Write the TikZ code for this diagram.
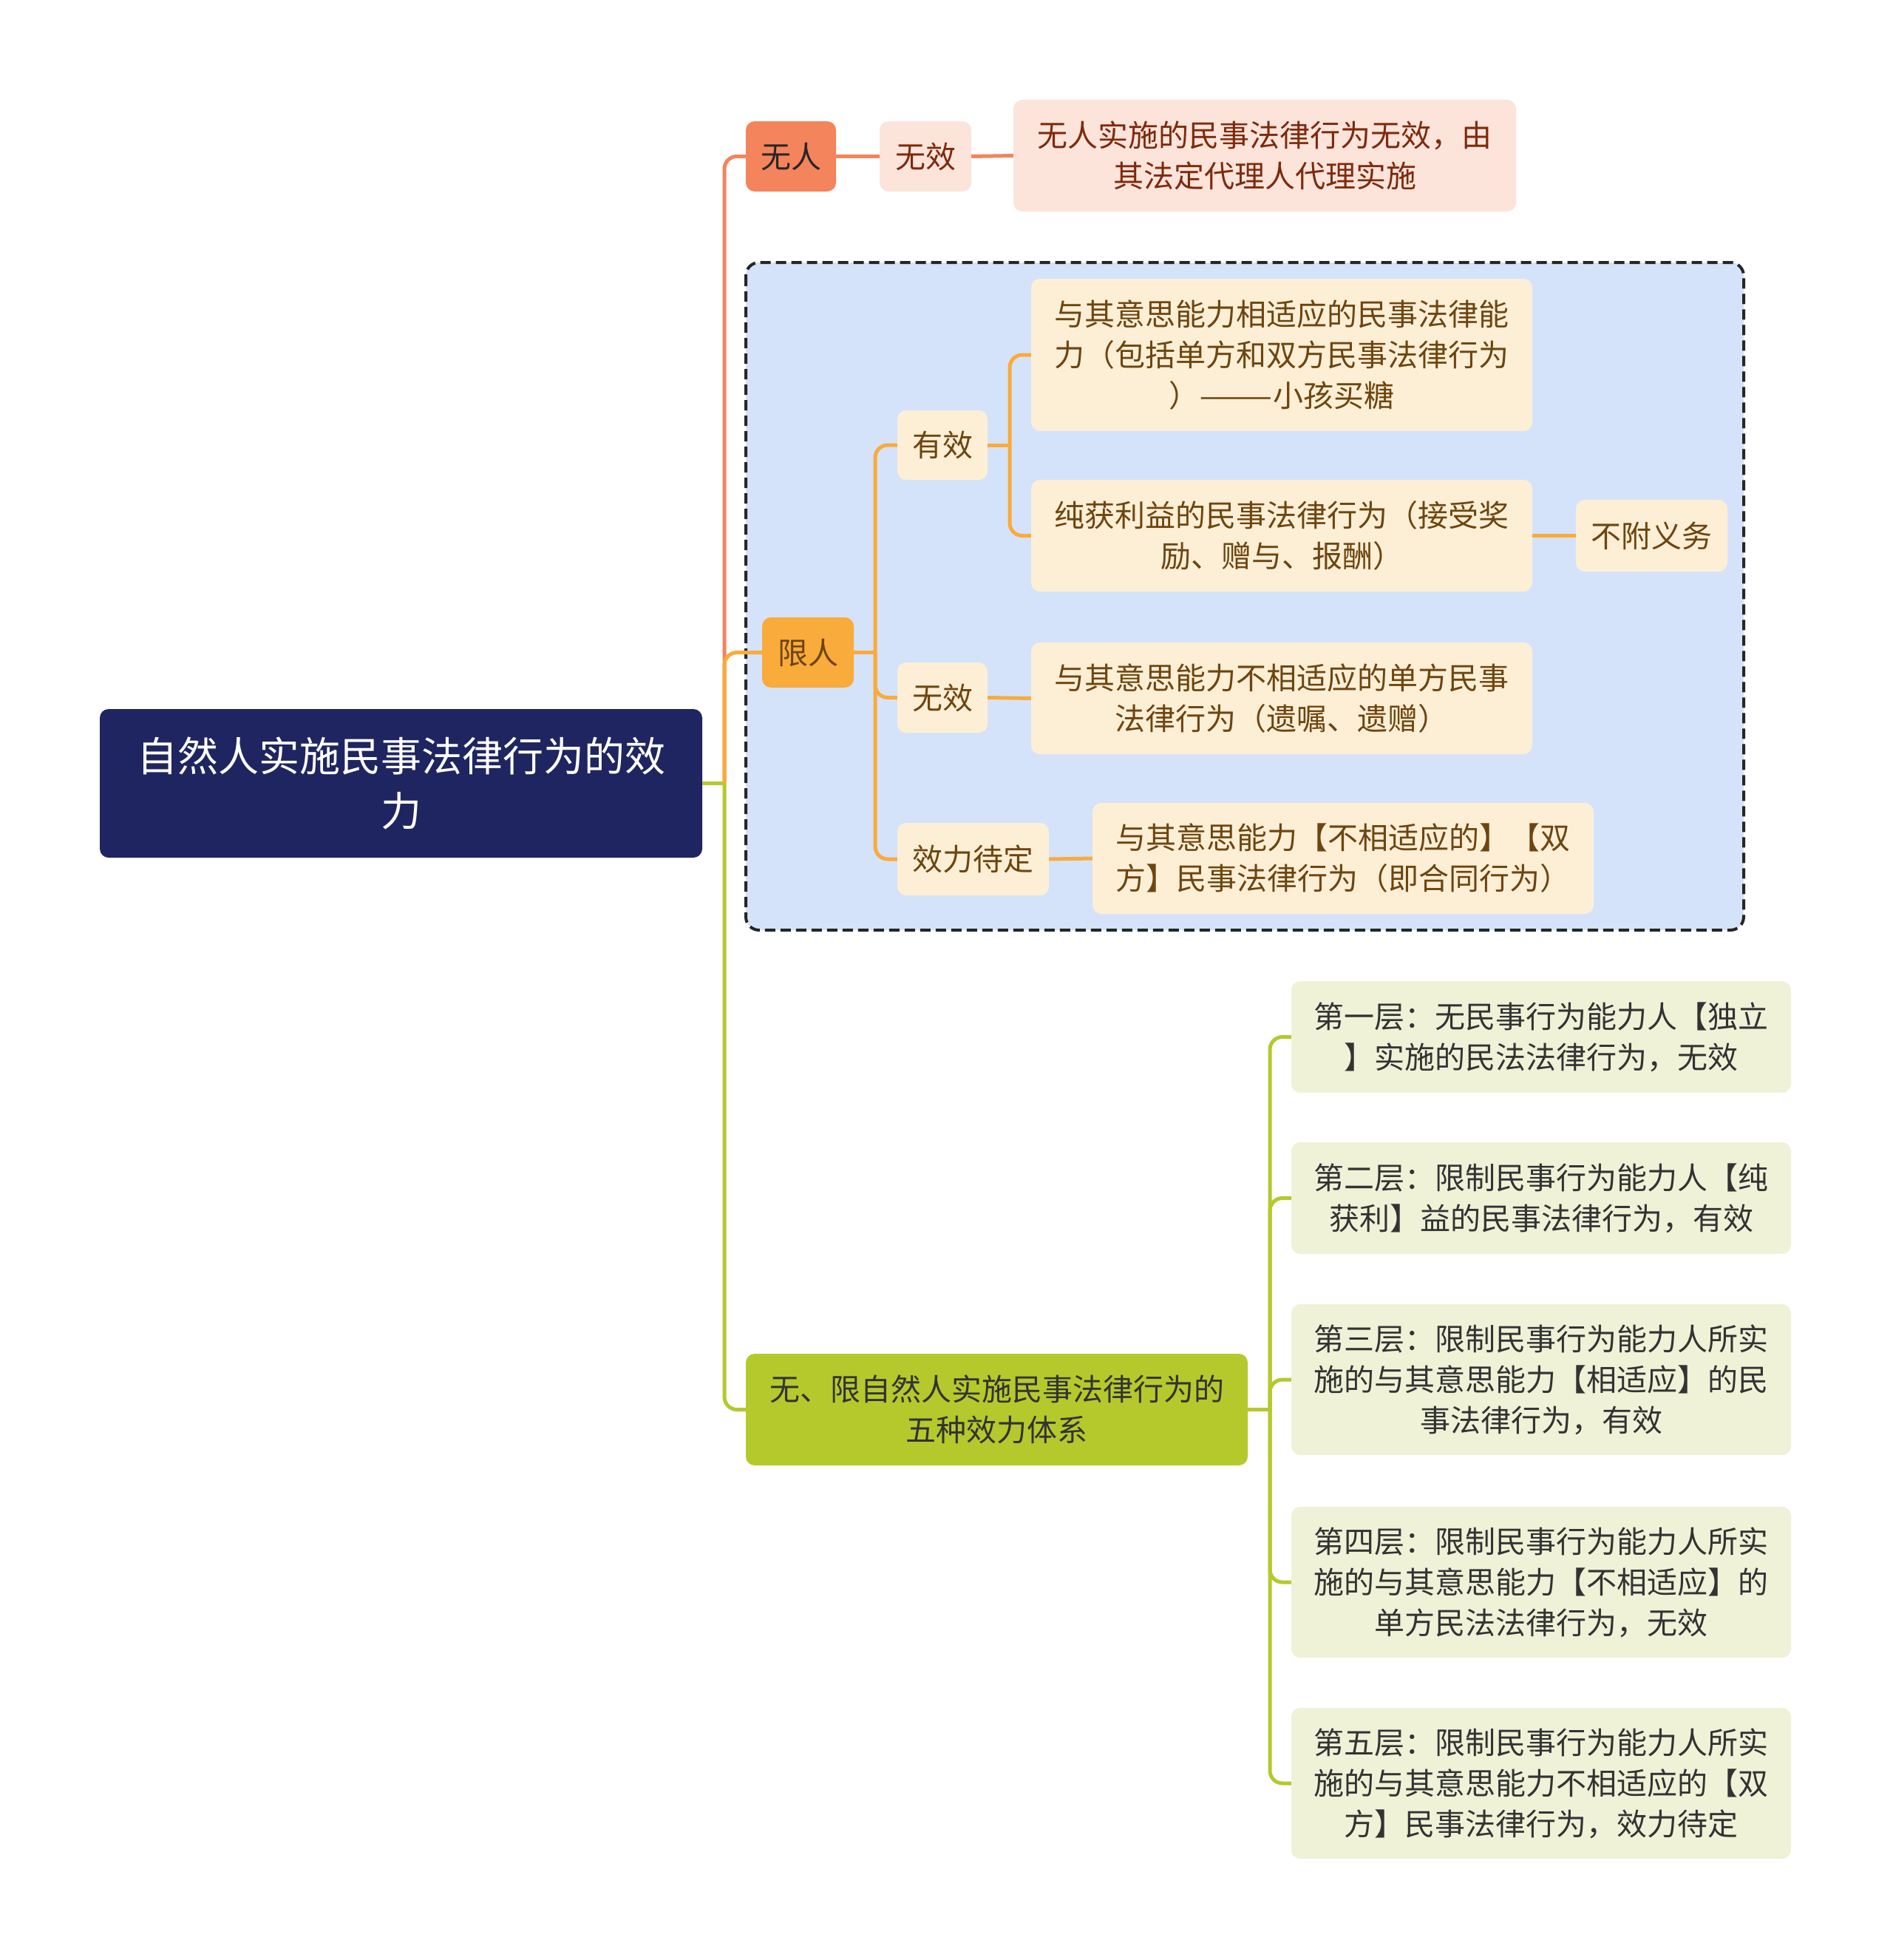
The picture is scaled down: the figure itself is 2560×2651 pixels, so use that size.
\documentclass[tikz,border=0pt]{standalone}
\usepackage{fontspec}
\setmainfont{Noto Sans CJK SC}
\definecolor{navy}{HTML}{1F2560}
\definecolor{redC}{HTML}{F4845C}
\definecolor{redL}{HTML}{FCE4DB}
\definecolor{redT}{HTML}{7E2A0C}
\definecolor{orC}{HTML}{F9AB3B}
\definecolor{orL}{HTML}{FDEFD6}
\definecolor{orT}{HTML}{6E4510}
\definecolor{grC}{HTML}{B5C92D}
\definecolor{grL}{HTML}{EFF2D7}
\definecolor{grT}{HTML}{333333}
\definecolor{bluebg}{HTML}{D5E3FA}
\begin{document}
\begin{tikzpicture}[x=1pt,y=-1pt,
  nb/.style={rounded corners=12pt, inner sep=0pt, align=center,
    font=\fontsize{41}{55}\selectfont},
  rl/.style={draw=redC, line width=5pt, rounded corners=17pt},
  ol/.style={draw=orC, line width=5pt, rounded corners=17pt},
  gl/.style={draw=grC, line width=5pt, rounded corners=17pt}]
\useasboundingbox (0,0) rectangle (2560,2651);
\fill[white] (0,0) rectangle (2560,2651);
% group frame
\draw[fill=bluebg, draw=black!85, line width=4pt, dash pattern=on 14pt off 7pt, rounded corners=18pt]
  (1009,355) rectangle (2359,1258);
% root
\node[nb, fill=navy, text=white, minimum width=815pt, minimum height=201pt,
  font=\fontsize{55}{74}\selectfont] (root) at (542.5,1059.5) {自然人实施民事法律行为的效\\力};
% red branch
\node[nb, fill=redC, text=black!85, minimum width=122pt, minimum height=95pt] (wr) at (1070,211.5) {无人};
\node[nb, fill=redL, text=redT, minimum width=124pt, minimum height=95pt] (wx1) at (1252,211.5) {无效};
\node[nb, fill=redL, text=redT, minimum width=680pt, minimum height=151pt] (wd) at (1711,210.5) {无人实施的民事法律行为无效，由\\其法定代理人代理实施};
% orange branch
\node[nb, fill=orC, text=orT, minimum width=124pt, minimum height=95pt] (xr) at (1093,882.5) {限人};
\node[nb, fill=orL, text=orT, minimum width=122pt, minimum height=94pt] (yx) at (1275,602) {有效};
\node[nb, fill=orL, text=orT, minimum width=678pt, minimum height=206pt] (d1) at (1734,480) {与其意思能力相适应的民事法律能\\力（包括单方和双方民事法律行为\\）\scalebox{1.45}[1]{——}小孩买糖};
\node[nb, fill=orL, text=orT, minimum width=678pt, minimum height=151pt] (d2) at (1734,724.5) {纯获利益的民事法律行为（接受奖\\励、赠与、报酬）};
\node[nb, fill=orL, text=orT, minimum width=205pt, minimum height=97pt] (bf) at (2234.5,724.5) {不附义务};
\node[nb, fill=orL, text=orT, minimum width=122pt, minimum height=95pt] (wx2) at (1275,943.5) {无效};
\node[nb, fill=orL, text=orT, minimum width=678pt, minimum height=151pt] (d3) at (1734,944.5) {与其意思能力不相适应的单方民事\\法律行为（遗嘱、遗赠）};
\node[nb, fill=orL, text=orT, minimum width=205pt, minimum height=98pt] (xd) at (1316.5,1162) {效力待定};
\node[nb, fill=orL, text=orT, minimum width=678pt, minimum height=150pt] (d4) at (1817,1161) {与其意思能力【不相适应的】【双\\方】民事法律行为（即合同行为）};
% green branch
\node[nb, fill=grC, text=grT, minimum width=679pt, minimum height=151pt] (wl) at (1348.5,1906.5) {无、限自然人实施民事法律行为的\\五种效力体系};
\node[nb, fill=grL, text=grT, minimum width=676pt, minimum height=151pt] (l1) at (2085,1402.5) {第一层：无民事行为能力人【独立\\】实施的民法法律行为，无效};
\node[nb, fill=grL, text=grT, minimum width=676pt, minimum height=151pt] (l2) at (2085,1620.5) {第二层：限制民事行为能力人【纯\\获利】益的民事法律行为，有效};
\node[nb, fill=grL, text=grT, minimum width=676pt, minimum height=204pt] (l3) at (2085,1866) {第三层：限制民事行为能力人所实\\施的与其意思能力【相适应】的民\\事法律行为，有效};
\node[nb, fill=grL, text=grT, minimum width=676pt, minimum height=204pt] (l4) at (2085,2140) {第四层：限制民事行为能力人所实\\施的与其意思能力【不相适应】的\\单方民法法律行为，无效};
\node[nb, fill=grL, text=grT, minimum width=676pt, minimum height=204pt] (l5) at (2085,2412) {第五层：限制民事行为能力人所实\\施的与其意思能力不相适应的【双\\方】民事法律行为，效力待定};
% trunk coordinates
\coordinate (t0) at (980,1059.5);
\coordinate (t1) at (1184,882.5);
\coordinate (t2) at (1366,602);
\coordinate (t3) at (1718,1906.5);
% connectors
\draw[rl] (t0) |- (wr.west);
\draw[ol] (t0) |- (xr.west);
\draw[gl] (t0) |- (wl.west);
\draw[gl] (root.east) -- (t0);
\draw[rl] (wr.east) -- (wx1.west);
\draw[rl] (wx1.east) -- (wd.west);
\draw[ol] (xr.east) -- (t1);
\draw[ol] (t1) |- (yx.west);
\draw[ol] (t1) |- (wx2.west);
\draw[ol] (t1) |- (xd.west);
\draw[ol] (yx.east) -- (t2);
\draw[ol] (t2) |- (d1.west);
\draw[ol] (t2) |- (d2.west);
\draw[ol] (d2.east) -- (bf.west);
\draw[ol] (wx2.east) -- (d3.west);
\draw[ol] (xd.east) -- (d4.west);
\draw[gl] (wl.east) -- (t3);
\draw[gl] (t3) |- (l1.west);
\draw[gl] (t3) |- (l2.west);
\draw[gl] (t3) |- (l3.west);
\draw[gl] (t3) |- (l4.west);
\draw[gl] (t3) |- (l5.west);
\end{tikzpicture}
\end{document}
